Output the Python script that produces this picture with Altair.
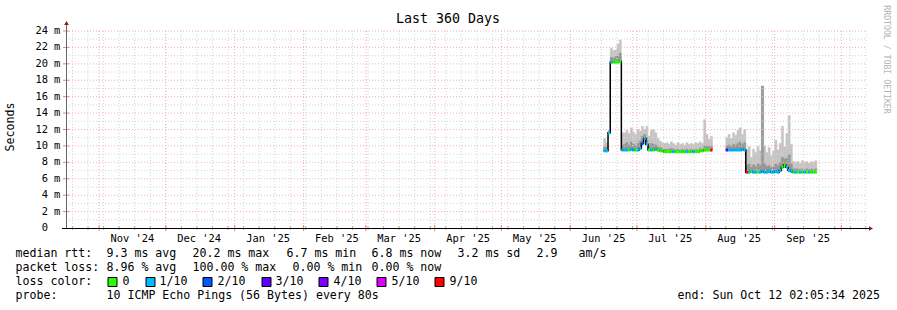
import altair as alt
import pandas as pd

# ---------------- data ----------------
START = pd.Timestamp("2024-10-17 02:05:34")
SPAN_DAYS = 360

y_ticks = [0, 2, 4, 6, 8, 10, 12, 14, 16, 18, 20, 22, 24]
month_starts = ["2024-11-01", "2024-12-01", "2025-01-01", "2025-02-01", "2025-03-01", "2025-04-01",
                "2025-05-01", "2025-06-01", "2025-07-01", "2025-08-01", "2025-09-01", "2025-10-01"]
month_labels = ["Nov '24", "Dec '24", "Jan '25", "Feb '25", "Mar '25", "Apr '25",
                "May '25", "Jun '25", "Jul '25", "Aug '25", "Sep '25"]
first_sunday = "2024-10-20"

# chunk 1: 2025-06-16 .. 2025-08-03 (daily), values in ms
chunk1_start = "2025-06-16"
median1 = [9.4, 9.4, 11.6, 20.2, 20.2, 20.2, 20.2, 20.3, 9.5, 9.5, 9.5, 9.5, 9.6, 9.5, 9.5, 9.5,
           9.7, 10.3, 10.9, 10.2, 9.5, 9.5, 9.5, 9.6, 9.5, 9.4, 9.4, 9.3, 9.3, 9.3, 9.3, 9.3,
           9.3, 9.3, 9.3, 9.3, 9.3, 9.3, 9.3, 9.3, 9.3, 9.3, 9.3, 9.4, 9.4, 9.5, 9.5, 9.5, 9.5]
hi1 = [10.9, 10.4, 11.9, 21.9, 21.6, 21.7, 22.4, 22.9, 11.6, 11.6, 11.9, 11.5, 12.2, 11.7, 11.4, 12.0,
       11.8, 12.4, 12.0, 12.4, 11.2, 11.9, 12.0, 11.6, 10.9, 10.6, 10.4, 10.3, 10.4, 10.2, 10.5, 10.3,
       10.1, 10.4, 10.2, 10.3, 10.1, 10.4, 10.2, 10.3, 10.2, 10.4, 10.3, 10.5, 10.3, 13.2, 11.4, 10.8, 11.2]
mid1 = [9.9, 9.8, 11.7, 20.8, 20.7, 20.9, 21.0, 21.3, 10.1, 10.2, 10.4, 10.1, 10.5, 10.2, 10.0, 10.3,
        10.6, 11.2, 11.4, 11.0, 10.0, 10.3, 10.2, 10.1, 9.9, 9.8, 9.7, 9.6, 9.6, 9.6, 9.7, 9.6,
        9.5, 9.6, 9.5, 9.6, 9.5, 9.6, 9.5, 9.6, 9.5, 9.6, 9.5, 9.7, 9.6, 10.0, 10.0, 9.9, 10.0]
loss1 = [1, 1, 1, 1, 0, 0, 0, 0, 1, 1, 1, 0, 1, 1, 0, 1,
         1, 2, 1, 1, 0, 1, 0, 1, 0, 0, 0, 0, 0, 0, 0, 1,
         0, 0, 0, 0, 0, 1, 0, 0, 1, 0, 0, 0, 0, 0, 0, 0, 9]

# chunk 2: 2025-08-10 .. 2025-09-19 (daily)
chunk2_start = "2025-08-10"
median2 = [9.5, 9.5, 9.5, 9.5, 9.5, 9.5, 9.5, 9.6, 9.5, 6.8, 6.8, 6.9, 6.8, 6.8, 6.8, 6.8,
           6.9, 6.8, 6.8, 6.9, 6.8, 6.8, 6.9, 6.8, 7.0, 7.4, 7.7, 7.4, 7.0, 6.9, 6.8, 6.8,
           6.8, 6.8, 6.8, 6.8, 6.8, 6.8, 6.8, 6.8, 6.8]
hi2 = [11.0, 11.4, 10.9, 11.6, 11.3, 11.9, 12.2, 11.4, 12.0, 9.6, 9.9, 8.6, 9.6, 9.2, 9.9, 9.4,
       17.3, 10.0, 9.2, 9.8, 8.8, 9.4, 10.7, 9.5, 10.3, 12.4, 9.9, 11.5, 13.7, 10.2, 8.1, 8.0,
       8.1, 7.9, 8.2, 8.0, 8.1, 7.9, 8.1, 8.0, 8.2]
mid2 = [10.0, 10.1, 10.0, 10.2, 10.1, 10.3, 10.5, 10.2, 10.4, 7.6, 7.8, 7.4, 7.7, 7.5, 7.8, 7.6,
        17.3, 7.8, 7.5, 7.6, 7.4, 7.5, 7.8, 7.6, 8.0, 8.6, 8.4, 8.5, 9.0, 7.8, 7.2, 7.2,
        7.2, 7.1, 7.2, 7.1, 7.2, 7.1, 7.2, 7.1, 7.2]
loss2 = [3, 1, 1, 1, 1, 1, 1, 1, 1, 9, 1, 0, 1, 1, 0, 1,
         1, 1, 1, 1, 1, 1, 1, 1, 1, 0, 0, 1, 1, 1, 0, 1,
         0, 1, 0, 1, 0, 1, 0, 0, 0]

loss_levels = ["0", "1", "2", "3", "4", "5", "9"]
loss_names = ["0", "1/10", "2/10", "3/10", "4/10", "5/10", "9/10"]
loss_colors = ["#26ff00", "#00b8ff", "#0059ff", "#5e00ff", "#7e00ff", "#dd00ff", "#ff0000"]

legend_rows = [
    ["median rtt:", "9.3 ms avg", "20.2 ms max", "6.7 ms min", "6.8 ms now", "3.2 ms sd", "2.9", "am/s"],
    ["packet loss:", "8.96 % avg", "100.00 % max", "0.00 % min", "0.00 % now"],
    ["loss color:"],
    ["probe:", "10 ICMP Echo Pings (56 Bytes) every 80s", "end: Sun Oct 12 02:05:34 2025"],
]
title_text = "Last 360 Days"
y_title = "Seconds"
watermark = "RRDTOOL / TOBI OETIKER"

# ---------------- layout (pixels, relative to plot origin) ----------------
W, H = 800, 197
PAD_L, PAD_T = 66, 31
legend_x = [
    [16, 107, 193, 287, 372, 458, 537, 579],
    [16, 107, 193, 293, 372],
    [16],
    [16, 107, 678],
]
legend_y = [254, 268, 282, 296]
box_x = [108, 146, 203, 262, 319, 377, 435]
box_label_x = [123, 160, 218, 276, 334, 392, 450]
FONT = "DejaVu Sans Mono"
GRID_MINOR = "#d4d4d4"
GRID_MAJOR = "#f4b0b0"


def days(d):
    return (pd.Timestamp(d) - START) / pd.Timedelta(days=1)


rows = []
for cid, (st, med, hi, mid, loss) in enumerate([
        (chunk1_start, median1, hi1, mid1, loss1),
        (chunk2_start, median2, hi2, mid2, loss2)]):
    t = days(st)
    for i in range(len(med)):
        rows.append(dict(chunk=cid, t0=t + i, t1=t + i + 1, med=med[i], hi=hi[i],
                         mid=mid[i], loss=str(loss[i])))
df = pd.DataFrame(rows)

xs = alt.Scale(domain=[0, SPAN_DAYS], nice=False, zero=False)
ys = alt.Scale(domain=[0, 24], nice=False, zero=False)

# grid data
sundays = [d for d in pd.date_range(first_sunday, periods=52, freq="7D") if 0 <= days(d) <= SPAN_DAYS]
month_off = [days(m) for m in month_starts]
minor_v = pd.DataFrame({"t": [days(d) for d in sundays]})
major_v = pd.DataFrame({"t": month_off})
minor_h = pd.DataFrame({"v": [v + 1 for v in y_ticks[:-1]]})
major_h = pd.DataFrame({"v": y_ticks[1:]})

layers = []

# smoke
layers.append(alt.Chart(df).mark_rect(color="#c4c4c4", stroke="#c4c4c4", strokeWidth=0.4).encode(
    x=alt.X("t0:Q", scale=xs, axis=None), x2="t1:Q",
    y=alt.Y("med:Q", scale=ys, axis=None), y2="hi:Q"))
layers.append(alt.Chart(df).mark_rect(color="#969696", stroke="#969696", strokeWidth=0.4).encode(
    x=alt.X("t0:Q", scale=xs, axis=None), x2="t1:Q",
    y=alt.Y("med:Q", scale=ys, axis=None), y2="mid:Q"))

# grid
layers.append(alt.Chart(minor_v).mark_rule(color=GRID_MINOR, strokeDash=[1, 2], strokeWidth=1).encode(
    x=alt.X("t:Q", scale=xs, axis=None), y=alt.value(0), y2=alt.value(H)))
layers.append(alt.Chart(minor_h).mark_rule(color=GRID_MINOR, strokeDash=[1, 2], strokeWidth=1).encode(
    y=alt.Y("v:Q", scale=ys, axis=None), x=alt.value(0), x2=alt.value(W)))
layers.append(alt.Chart(major_v).mark_rule(color=GRID_MAJOR, strokeDash=[1, 2], strokeWidth=1).encode(
    x=alt.X("t:Q", scale=xs, axis=None), y=alt.value(0), y2=alt.value(H)))
layers.append(alt.Chart(major_h).mark_rule(color=GRID_MAJOR, strokeDash=[1, 2], strokeWidth=1).encode(
    y=alt.Y("v:Q", scale=ys, axis=None), x=alt.value(0), x2=alt.value(W)))

# median: black step line + loss-coloured segments
layers.append(alt.Chart(df).mark_line(interpolate="step-after", color="black", strokeWidth=1.5).encode(
    x=alt.X("t0:Q", scale=xs, axis=None), y=alt.Y("med:Q", scale=ys, axis=None), detail="chunk:N"))
layers.append(alt.Chart(df).mark_rule(strokeWidth=3).encode(
    x=alt.X("t0:Q", scale=xs, axis=None), x2="t1:Q",
    y=alt.Y("med:Q", scale=ys, axis=None),
    color=alt.Color("loss:N", scale=alt.Scale(domain=loss_levels, range=loss_colors), legend=None)))

# axis ticks
layers.append(alt.Chart(minor_v).mark_rule(color="#aaaaaa").encode(
    x=alt.X("t:Q", scale=xs, axis=None), y=alt.value(H - 2), y2=alt.value(H + 2)))
layers.append(alt.Chart(major_v).mark_rule(color="#e88080").encode(
    x=alt.X("t:Q", scale=xs, axis=None), y=alt.value(H - 3), y2=alt.value(H + 3)))
layers.append(alt.Chart(major_h).mark_rule(color="#e88080").encode(
    y=alt.Y("v:Q", scale=ys, axis=None), x=alt.value(-3), x2=alt.value(3)))

# axis lines and arrows
one = pd.DataFrame({"a": [0]})
layers.append(alt.Chart(one).mark_rule(color="#666666").encode(
    x=alt.value(0.5), y=alt.value(-7), y2=alt.value(H)))
layers.append(alt.Chart(one).mark_rule(color="#000000").encode(
    y=alt.value(H + 0.5), x=alt.value(-4), x2=alt.value(W + 4)))
layers.append(alt.Chart(one).mark_point(shape="triangle-up", filled=True, size=22, color="#8b1a1a", opacity=1).encode(
    x=alt.value(0.5), y=alt.value(-8)))
layers.append(alt.Chart(one).mark_point(shape="triangle-right", filled=True, size=22, color="#8b1a1a", opacity=1).encode(
    x=alt.value(W + 5), y=alt.value(H + 0.5)))

# y labels
ylab = pd.DataFrame({"v": y_ticks, "num": [str(v) for v in y_ticks],
                     "unit": ["" if v == 0 else "m" for v in y_ticks]})
layers.append(alt.Chart(ylab).mark_text(align="right", baseline="middle", font=FONT, fontSize=10.4,
                                         color="#000000").encode(
    y=alt.Y("v:Q", scale=ys, axis=None), x=alt.value(-18), text="num:N"))
layers.append(alt.Chart(ylab).mark_text(align="left", baseline="middle", font=FONT, fontSize=10.4,
                                         color="#000000").encode(
    y=alt.Y("v:Q", scale=ys, axis=None), x=alt.value(-12), text="unit:N"))

# x labels (centred mid-month)
xlab = pd.DataFrame({"t": [o + 15 for o in month_off[:len(month_labels)]], "lab": month_labels})
layers.append(alt.Chart(xlab).mark_text(align="center", baseline="middle", font=FONT, fontSize=10.4,
                                         color="#000000").encode(
    x=alt.X("t:Q", scale=xs, axis=None), y=alt.value(H + 10.5), text="lab:N"))

# title, y title, watermark
layers.append(alt.Chart(one).mark_text(text=title_text, align="center", baseline="middle", font=FONT,
                                        fontSize=13.3, color="#000000").encode(
    x=alt.value(448 - PAD_L), y=alt.value(19 - PAD_T)))
layers.append(alt.Chart(one).mark_text(text=y_title, align="center", baseline="middle", font=FONT,
                                        fontSize=11.6, angle=270, color="#000000").encode(
    x=alt.value(10.5 - PAD_L), y=alt.value(127 - PAD_T)))
layers.append(alt.Chart(one).mark_text(text=watermark, align="center", baseline="middle", font=FONT,
                                        fontSize=8.2, angle=90, color="#b4b4b4").encode(
    x=alt.value(886 - PAD_L), y=alt.value(59.5 - PAD_T)))

# legend text
leg_rows = []
for r, (texts, xs_) in enumerate(zip(legend_rows, legend_x)):
    for t, xp in zip(texts, xs_):
        leg_rows.append(dict(text=t, px=xp - 0.5 - PAD_L, py=legend_y[r] - PAD_T))
for name, xp in zip(loss_names, box_label_x):
    leg_rows.append(dict(text=name, px=xp - 0.5 - PAD_L, py=legend_y[2] - PAD_T))
legdf = pd.DataFrame(leg_rows)
layers.append(alt.Chart(legdf).mark_text(align="left", baseline="middle", font=FONT, fontSize=11.6,
                                          color="#000000").encode(
    x=alt.X("px:Q", scale=None), y=alt.Y("py:Q", scale=None), text="text:N"))

boxdf = pd.DataFrame({"lvl": loss_levels,
                      "bx": [b - PAD_L for b in box_x],
                      "bx2": [b + 9 - PAD_L for b in box_x],
                      "by": [legend_y[2] - 4.5 - PAD_T] * len(box_x),
                      "by2": [legend_y[2] + 4.5 - PAD_T] * len(box_x)})
layers.append(alt.Chart(boxdf).mark_rect(stroke="#000000", strokeWidth=1).encode(
    x=alt.X("bx:Q", scale=None), x2="bx2:Q", y=alt.Y("by:Q", scale=None), y2="by2:Q",
    fill=alt.Fill("lvl:N", scale=alt.Scale(domain=loss_levels, range=loss_colors), legend=None)))

chart = alt.layer(*layers).properties(
    width=W, height=H,
    autosize=alt.AutoSizeParams(type="none"),
    padding={"left": PAD_L, "top": PAD_T, "right": 897 - PAD_L - W, "bottom": 310 - PAD_T - H},
    background="#ffffff",
).configure_view(strokeWidth=0)

chart.save("out.html", embed_options={"renderer": "svg", "actions": False})
